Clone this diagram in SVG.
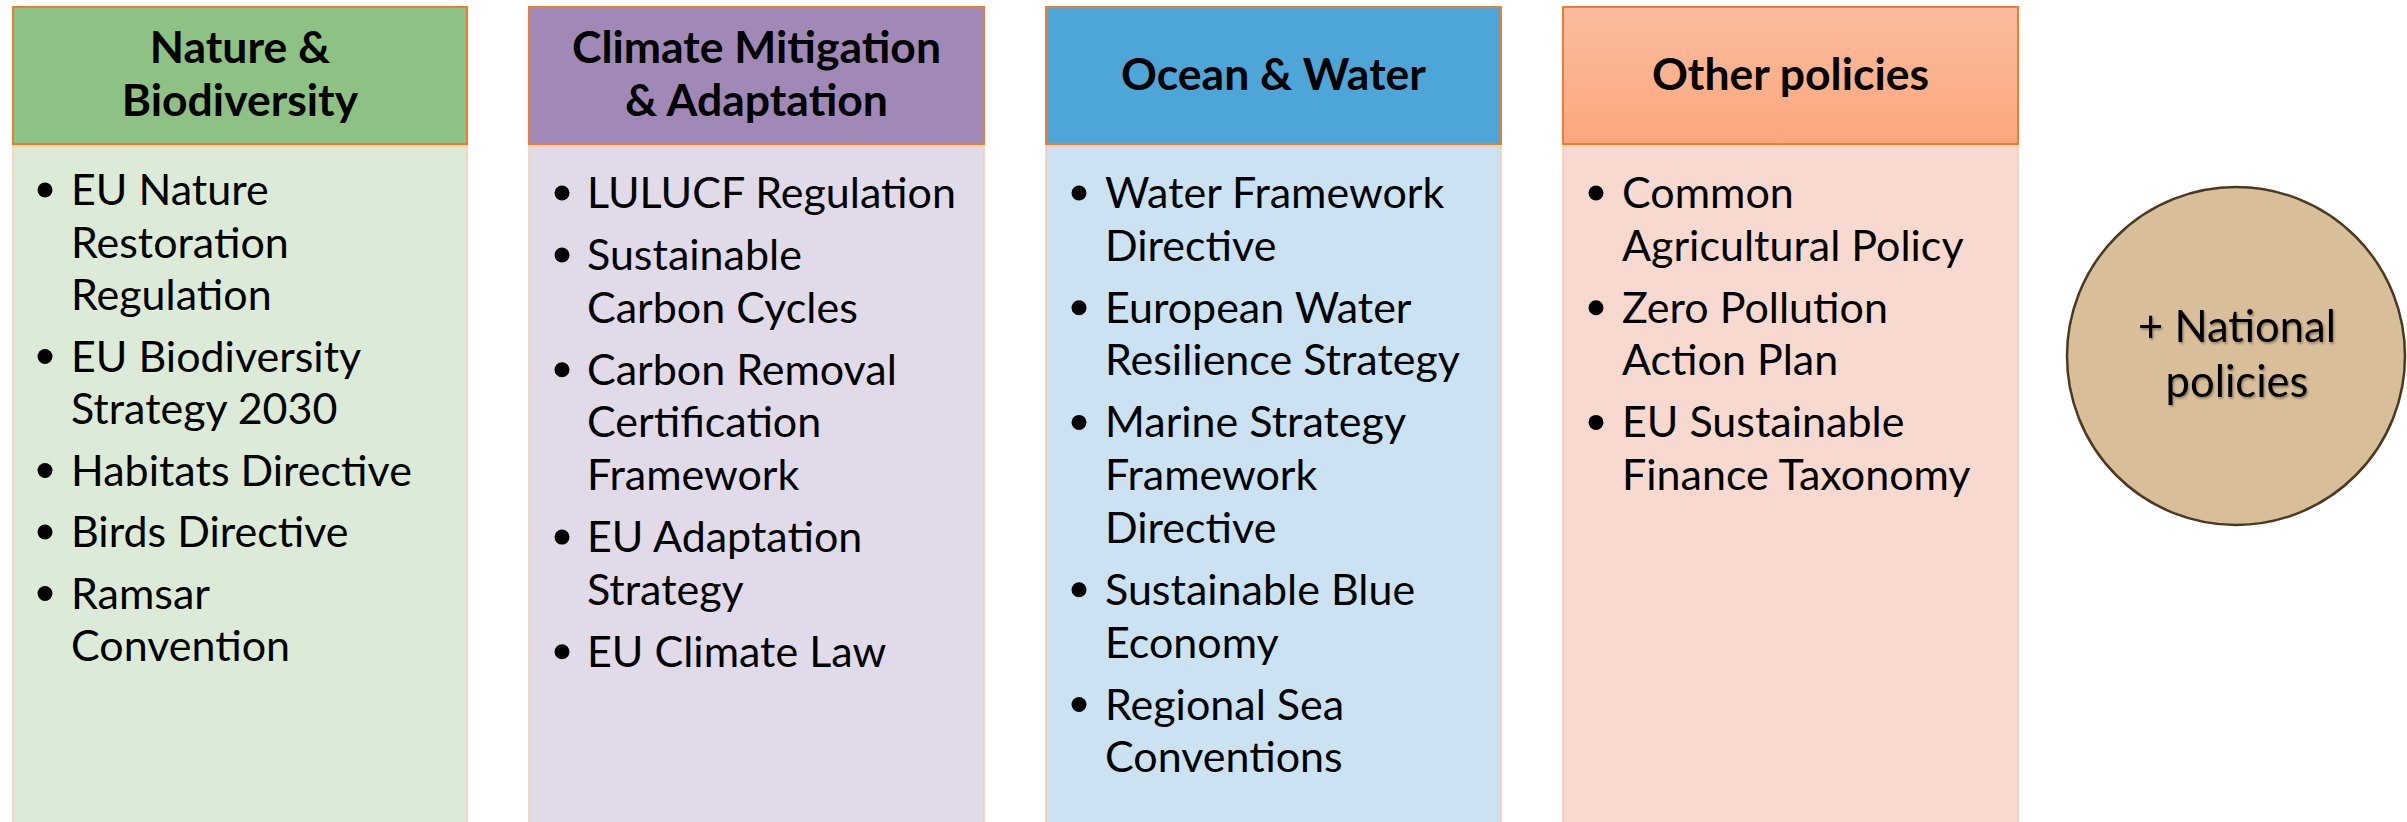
<svg xmlns="http://www.w3.org/2000/svg" width="2407" height="822" viewBox="0 0 2407 822">
<defs>
<linearGradient id="gOrange" x1="0" y1="0" x2="0" y2="1">
<stop offset="0" stop-color="#FCBC9F"/>
<stop offset="1" stop-color="#FBA77C"/>
</linearGradient>
<filter id="tshadow" x="-10%" y="-20%" width="130%" height="150%">
<feDropShadow dx="1.2" dy="1.8" stdDeviation="1.2" flood-color="#000" flood-opacity="0.35"/>
</filter>
<circle id="dot" r="7.5" fill="#000"/>
</defs>
<style>
.hdr{stroke:#ED7D31;stroke-width:2}
.body{stroke:#F8CBAD;stroke-width:1.5}
.ht{font-family:Lato,"Liberation Sans",sans-serif;font-weight:bold;font-size:44.5px;fill:#000;text-anchor:middle}
.bt{font-family:Lato,"Liberation Sans",sans-serif;font-size:43px;fill:#000}
.ct{font-family:Lato,"Liberation Sans",sans-serif;font-size:43.5px;fill:#000;text-anchor:middle}
</style>
<rect width="2407" height="822" fill="#FFFFFF"/>

<g id="col-nature">
<rect class="body" x="13" y="146" width="454" height="680" fill="#DCEBD8"/>
<rect class="hdr" x="13" y="7" width="454" height="137" fill="#8EC184"/>
<text class="ht" x="240" y="63">Nature &amp;</text>
<text class="ht" x="240" y="116">Biodiversity</text>
<use href="#dot" x="45" y="190"/>
<text class="bt" x="71" y="205">EU Nature</text>
<text class="bt" x="71" y="257.5">Restoration</text>
<text class="bt" x="71" y="310">Regulation</text>
<use href="#dot" x="45" y="356.5"/>
<text class="bt" x="71" y="371.5">EU Biodiversity</text>
<text class="bt" x="71" y="424">Strategy 2030</text>
<use href="#dot" x="45" y="470.5"/>
<text class="bt" x="71" y="485.5">Habitats Directive</text>
<use href="#dot" x="45" y="532"/>
<text class="bt" x="71" y="547">Birds Directive</text>
<use href="#dot" x="45" y="593.5"/>
<text class="bt" x="71" y="608.5">Ramsar</text>
<text class="bt" x="71" y="661">Convention</text>
</g>

<g id="col-climate">
<rect class="body" x="529" y="146" width="455" height="680" fill="#E1DAE9"/>
<rect class="hdr" x="529" y="7" width="455" height="137" fill="#A089B7"/>
<text class="ht" x="756.5" y="63">Climate Mitigation</text>
<text class="ht" x="756.5" y="116">&amp; Adaptation</text>
<use href="#dot" x="562" y="193"/>
<text class="bt" x="587" y="208">LULUCF Regulation</text>
<use href="#dot" x="562" y="255"/>
<text class="bt" x="587" y="270">Sustainable</text>
<text class="bt" x="587" y="322.7">Carbon Cycles</text>
<use href="#dot" x="562" y="369.7"/>
<text class="bt" x="587" y="384.7">Carbon Removal</text>
<text class="bt" x="587" y="437.4">Certification</text>
<text class="bt" x="587" y="490.1">Framework</text>
<use href="#dot" x="562" y="537.1"/>
<text class="bt" x="587" y="552.1">EU Adaptation</text>
<text class="bt" x="587" y="604.8">Strategy</text>
<use href="#dot" x="562" y="651.8"/>
<text class="bt" x="587" y="666.8">EU Climate Law</text>
</g>

<g id="col-ocean">
<rect class="body" x="1046" y="146" width="455" height="680" fill="#CBE2F2"/>
<rect class="hdr" x="1046" y="7" width="455" height="137" fill="#4EA5D8"/>
<text class="ht" x="1273.5" y="90">Ocean &amp; Water</text>
<use href="#dot" x="1079" y="193"/>
<text class="bt" x="1105" y="208">Water Framework</text>
<text class="bt" x="1105" y="260.7">Directive</text>
<use href="#dot" x="1079" y="307.7"/>
<text class="bt" x="1105" y="322.7">European Water</text>
<text class="bt" x="1105" y="375.4">Resilience Strategy</text>
<use href="#dot" x="1079" y="422.4"/>
<text class="bt" x="1105" y="437.4">Marine Strategy</text>
<text class="bt" x="1105" y="490.1">Framework</text>
<text class="bt" x="1105" y="542.8">Directive</text>
<use href="#dot" x="1079" y="589.8"/>
<text class="bt" x="1105" y="604.8">Sustainable Blue</text>
<text class="bt" x="1105" y="657.5">Economy</text>
<use href="#dot" x="1079" y="704.5"/>
<text class="bt" x="1105" y="719.5">Regional Sea</text>
<text class="bt" x="1105" y="772.2">Conventions</text>
</g>

<g id="col-other">
<rect class="body" x="1563" y="146" width="455" height="680" fill="#F8D9CF"/>
<rect class="hdr" x="1563" y="7" width="455" height="137" fill="url(#gOrange)"/>
<text class="ht" x="1790.5" y="90">Other policies</text>
<use href="#dot" x="1596" y="193"/>
<text class="bt" x="1622" y="208">Common</text>
<text class="bt" x="1622" y="260.7">Agricultural Policy</text>
<use href="#dot" x="1596" y="307.7"/>
<text class="bt" x="1622" y="322.7">Zero Pollution</text>
<text class="bt" x="1622" y="375.4">Action Plan</text>
<use href="#dot" x="1596" y="422.4"/>
<text class="bt" x="1622" y="437.4">EU Sustainable</text>
<text class="bt" x="1622" y="490.1">Finance Taxonomy</text>
</g>

<g id="national">
<circle cx="2236" cy="356" r="169" fill="#D9BF99" stroke="#4B3A22" stroke-width="2.5"/>
<g filter="url(#tshadow)">
<text class="ct" x="2237" y="342">+ National</text>
<text class="ct" x="2237" y="397">policies</text>
</g>
</g>

<g id="connectors"></g>
</svg>
